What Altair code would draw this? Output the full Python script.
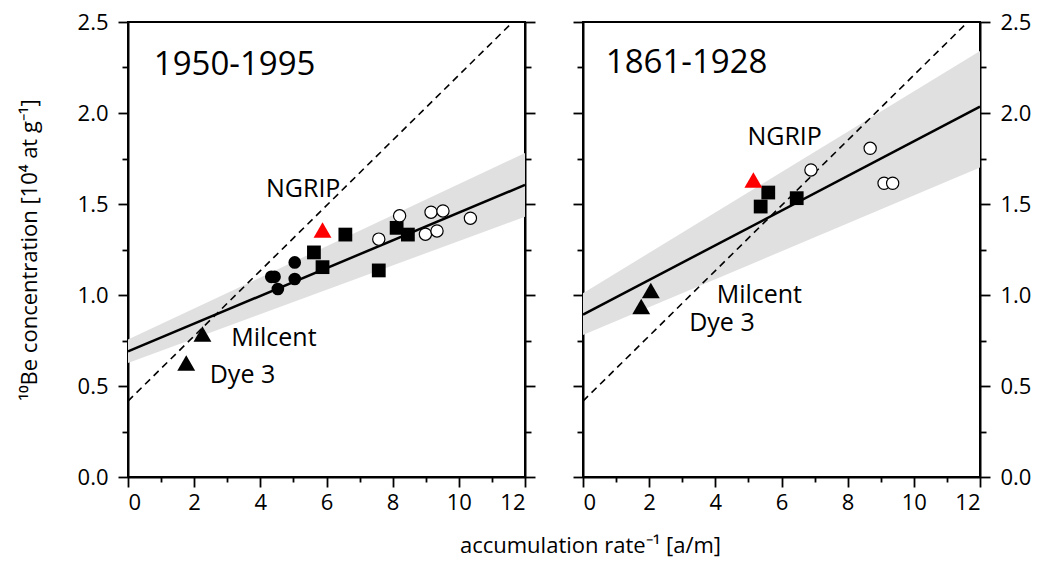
import altair as alt
import pandas as pd

FONT = "Open Sans"

# ---- 1950-1995 panel ----
a_tri_x = [1.76, 2.25]
a_tri_y = [0.627, 0.786]
a_ngrip_x = [5.88]
a_ngrip_y = [1.357]
a_dot_x = [4.33, 4.43, 4.53, 5.04, 5.04]
a_dot_y = [1.100, 1.100, 1.033, 1.179, 1.088]
a_sq_x = [5.62, 5.88, 6.57, 7.58, 8.12, 8.46]
a_sq_y = [1.234, 1.153, 1.332, 1.135, 1.369, 1.332]
a_open_x = [7.58, 8.21, 9.16, 9.52, 8.99, 9.34, 10.35]
a_open_y = [1.307, 1.435, 1.455, 1.462, 1.334, 1.352, 1.422]
a_fit_x = [0, 12]
a_fit_y = [0.69, 1.605]
a_band_lo = [0.627, 1.43]
a_band_hi = [0.755, 1.78]

# ---- 1861-1928 panel ----
b_tri_x = [1.76, 2.05]
b_tri_y = [0.937, 1.025]
b_ngrip_x = [5.15]
b_ngrip_y = [1.632]
b_sq_x = [5.37, 5.60, 6.46]
b_sq_y = [1.486, 1.563, 1.532]
b_open_x = [6.89, 8.68, 9.10, 9.36]
b_open_y = [1.687, 1.806, 1.614, 1.614]
b_fit_x = [0, 12]
b_fit_y = [0.892, 2.035]
b_band_lo = [0.78, 1.70]
b_band_hi = [1.01, 2.34]

# reference line shared by both panels
ref_x = [0, 11.63]
ref_y = [0.417, 2.5]

# annotations: text, x, y (data units, baseline of the text)
a_labels = ["1950-1995", "NGRIP", "Milcent", "Dye 3"]
a_label_x = [0.78, 4.17, 3.12, 2.47]
a_label_y = [2.208, 1.538, 0.718, 0.514]
b_labels = ["1861-1928", "NGRIP", "Milcent", "Dye 3"]
b_label_x = [0.69, 4.97, 4.04, 3.21]
b_label_y = [2.219, 1.824, 0.956, 0.80]
label_size = [33, 25, 25, 25]

x_ticks = list(range(0, 13))
y_ticks = [i * 0.25 for i in range(11)]

xscale = alt.Scale(domain=[0, 12], nice=False, zero=False)
yscale = alt.Scale(domain=[0, 2.5], nice=False, zero=False)

X_TITLE = "accumulation rate\u207b\u00b9 [a/m]"
Y_TITLE = "\u00b9\u2070Be concentration [10\u2074 at g\u207b\u00b9]"


def x_axis():
    return alt.Axis(
        orient="bottom",
        values=x_ticks,
        labelExpr="datum.value % 2 != 0 ? '' : format(datum.value, 'd')",
        tickSize={"condition": {"test": "datum.value % 2 != 0", "value": 5}, "value": 10},
        labelPadding=5,
        title=None,
        grid=False,
    )


def y_axis(orient, labels, title=None):
    kw = dict(
        orient=orient,
        values=y_ticks,
        labelExpr="datum.value % 0.5 != 0 ? '' : format(datum.value, '.1f')",
        tickSize={"condition": {"test": "datum.value % 0.5 != 0", "value": 6}, "value": 10},
        labels=labels,
        labelPadding=10,
        grid=False,
    )
    if title:
        kw["title"] = title
        kw["titlePadding"] = 36
    else:
        kw["title"] = None
    return alt.Axis(**kw)


def panel(fit_x, fit_y, lo, hi, tri, ngrip, dots, sq, opn, labels, lx, ly, left_labels):
    band_df = pd.DataFrame({"x": fit_x, "lo": lo, "hi": hi})
    fit_df = pd.DataFrame({"x": fit_x, "y": fit_y})
    ref_df = pd.DataFrame({"x": ref_x, "y": ref_y})

    if left_labels:
        first_y = y_axis("left", True, Y_TITLE)
        second_y = y_axis("right", False)
    else:
        first_y = y_axis("left", False)
        second_y = y_axis("right", True)

    xenc = alt.X("x:Q", scale=xscale, axis=x_axis())

    band = alt.Chart(band_df).mark_area(color="#e0e0e0", opacity=1).encode(
        x=xenc,
        y=alt.Y("lo:Q", scale=yscale, axis=first_y),
        y2="hi:Q",
    )
    ref = alt.Chart(ref_df).mark_line(color="black", strokeWidth=1.6, strokeDash=[7, 5], clip=True).encode(
        x=xenc,
        y=alt.Y("y:Q", scale=yscale, axis=second_y),
    )
    fit = alt.Chart(fit_df).mark_line(color="black", strokeWidth=2.5).encode(
        x=xenc,
        y=alt.Y("y:Q", scale=yscale, axis=None),
    )

    def pts(xs, ys, **mk):
        df = pd.DataFrame({"x": xs, "y": ys})
        return alt.Chart(df).mark_point(**mk).encode(
            x=xenc,
            y=alt.Y("y:Q", scale=yscale, axis=None),
        )

    layers = [band, ref, fit]
    if dots:
        layers.append(pts(*dots, shape="circle", filled=True, color="black", size=160, opacity=1))
    layers.append(pts(*sq, shape="square", filled=True, color="black", size=190, opacity=1))
    layers.append(pts(*opn, shape="circle", filled=True, fill="white", stroke="black",
                      strokeWidth=1.2, size=150, opacity=1))
    layers.append(pts(*tri, shape="triangle-up", filled=True, color="black", size=320, opacity=1))
    layers.append(pts(*ngrip, shape="triangle-up", filled=True, color="#ff0000", size=320, opacity=1))

    txt_df = pd.DataFrame({"t": labels, "x": lx, "y": ly, "s": label_size})
    text = alt.Chart(txt_df).mark_text(align="left", baseline="alphabetic", font=FONT, color="black").encode(
        x=xenc,
        y=alt.Y("y:Q", scale=yscale, axis=None),
        text="t:N",
        size=alt.Size("s:Q", scale=None, legend=None),
    )
    layers.append(text)

    return alt.layer(*layers).resolve_axis(y="independent").properties(width=397, height=455)


left = panel(a_fit_x, a_fit_y, a_band_lo, a_band_hi,
             (a_tri_x, a_tri_y), (a_ngrip_x, a_ngrip_y), (a_dot_x, a_dot_y),
             (a_sq_x, a_sq_y), (a_open_x, a_open_y),
             a_labels, a_label_x, a_label_y, True)
right = panel(b_fit_x, b_fit_y, b_band_lo, b_band_hi,
              (b_tri_x, b_tri_y), (b_ngrip_x, b_ngrip_y), None,
              (b_sq_x, b_sq_y), (b_open_x, b_open_y),
              b_labels, b_label_x, b_label_y, False)

chart = alt.hconcat(left, right, spacing=34).properties(
    title=alt.TitleParams(X_TITLE, orient="bottom", anchor="middle", dx=66, offset=22,
                          fontSize=22, font=FONT, fontWeight="normal", color="black"),
    padding={"left": 17, "top": 10, "right": 5, "bottom": 5},
    background="white",
).configure_view(
    stroke="black", strokeWidth=2
).configure_axis(
    domainColor="black", domainWidth=2, tickColor="black", tickWidth=1.8,
    labelFont=FONT, labelFontSize=22, labelColor="black",
    titleFont=FONT, titleFontSize=22, titleFontWeight="normal", titleColor="black",
)

chart.save("out.html", embed_options={"renderer": "svg", "actions": False})
